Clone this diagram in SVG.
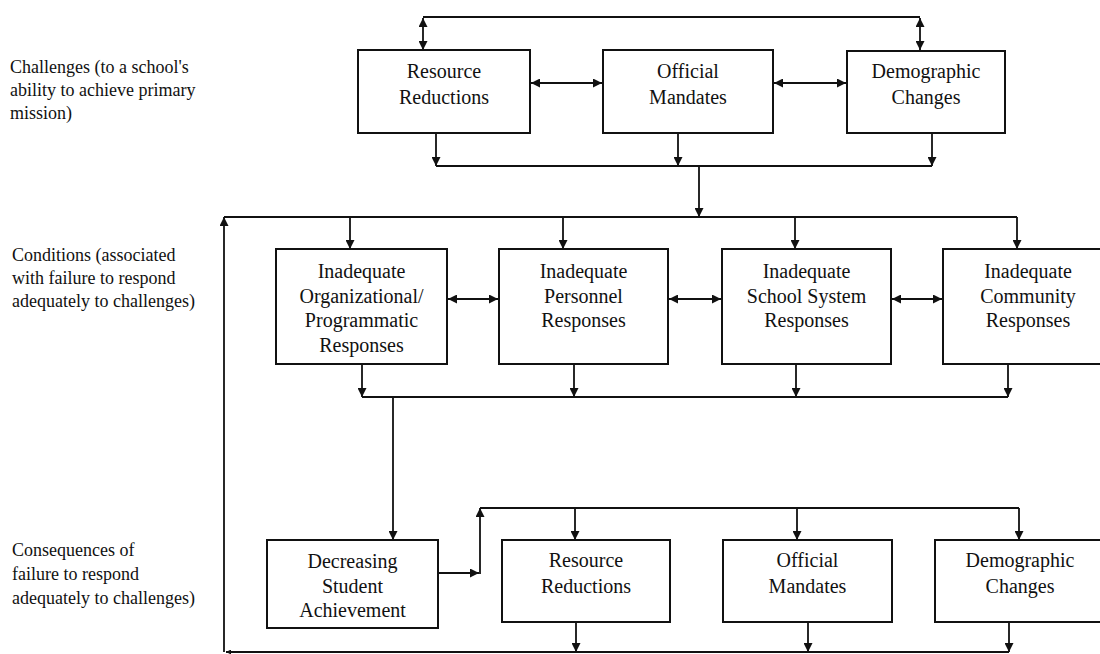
<svg xmlns="http://www.w3.org/2000/svg" width="1100" height="654" viewBox="0 0 1100 654">
<style>
.box{fill:#fff;stroke:#111;stroke-width:2}
.t{font-family:"Liberation Serif","Times New Roman",serif;font-size:20px;fill:#111;text-anchor:middle}
.lbl{font-family:"Liberation Serif","Times New Roman",serif;font-size:18px;fill:#111}
.c{fill:none;stroke:#111;stroke-width:1.8}
.a{marker-end:url(#ah)}
.aa{marker-start:url(#ah);marker-end:url(#ah)}
</style>
<defs>
<marker id="ah" viewBox="0 0 10 10" refX="10" refY="5" markerWidth="10" markerHeight="9" markerUnits="userSpaceOnUse" orient="auto-start-reverse">
<path d="M0,0 L10,5 L0,10 z" fill="#111"/>
</marker>
<marker id="sm" viewBox="0 0 10 10" refX="10" refY="5" markerWidth="6" markerHeight="5" markerUnits="userSpaceOnUse" orient="auto">
<path d="M0,0 L10,5 L0,10 z" fill="#111"/>
</marker>
</defs>

<g id="labels">
<text class="lbl" x="10" y="73">Challenges (to a school's</text>
<text class="lbl" x="10" y="96">ability to achieve primary</text>
<text class="lbl" x="10" y="119">mission)</text>
<text class="lbl" x="12" y="261">Conditions (associated</text>
<text class="lbl" x="12" y="284">with failure to respond</text>
<text class="lbl" x="12" y="307">adequately to challenges)</text>
<text class="lbl" x="12" y="556">Consequences of</text>
<text class="lbl" x="12" y="580">failure to respond</text>
<text class="lbl" x="12" y="604">adequately to challenges)</text>
</g>

<g id="connectors">
<!-- top -->
<path class="c" d="M423,17 L920,17"/>
<path class="c aa" d="M423,18 L423,50"/>
<path class="c aa" d="M920,18 L920,50"/>
<path class="c aa" d="M531,83 L602,83"/>
<path class="c aa" d="M774,83 L846,83"/>
<path class="c a" d="M436,133 L436,166"/>
<path class="c a" d="M678,133 L678,166"/>
<path class="c a" d="M932,133 L932,166"/>
<path class="c" d="M436,166 L932,166"/>
<path class="c a" d="M699,166 L699,217"/>
<!-- middle -->
<path class="c" d="M224,217 L1017,217"/>
<path class="c a" d="M350,217 L350,249"/>
<path class="c a" d="M563,217 L563,249"/>
<path class="c a" d="M795,217 L795,249"/>
<path class="c a" d="M1017,217 L1017,249"/>
<path class="c aa" d="M448,299 L498,299"/>
<path class="c aa" d="M669,299 L721,299"/>
<path class="c aa" d="M892,299 L942,299"/>
<path class="c a" d="M362,364 L362,397"/>
<path class="c a" d="M574,364 L574,397"/>
<path class="c a" d="M796,364 L796,397"/>
<path class="c a" d="M1008,364 L1008,397"/>
<path class="c" d="M362,397 L1008,397"/>
<path class="c a" d="M393,397 L393,540"/>
<!-- bottom -->
<path class="c a" d="M438,573 L479,573"/>
<path class="c a" d="M480,574 L480,508"/>
<path class="c" d="M480,508 L1019,508"/>
<path class="c a" d="M575,508 L575,540"/>
<path class="c a" d="M797,508 L797,540"/>
<path class="c a" d="M1019,508 L1019,540"/>
<path class="c a" d="M576,622 L576,652"/>
<path class="c a" d="M808,622 L808,652"/>
<path class="c a" d="M1009,622 L1009,652"/>
<path class="c" d="M1009,652 L226,652" marker-end="url(#sm)"/>
<path class="c a" d="M224,652 L224,217"/>
</g>

<g id="n-resource-top">
<rect class="box" x="358" y="50" width="172" height="83"/>
<text class="t" x="444" y="78">Resource</text>
<text class="t" x="444" y="104">Reductions</text>
</g>
<g id="n-official-top">
<rect class="box" x="603" y="50" width="170" height="83"/>
<text class="t" x="688" y="78">Official</text>
<text class="t" x="688" y="104">Mandates</text>
</g>
<g id="n-demographic-top">
<rect class="box" x="847" y="51" width="158" height="82"/>
<text class="t" x="926" y="78">Demographic</text>
<text class="t" x="926" y="104">Changes</text>
</g>

<g id="n-org">
<rect class="box" x="276" y="249" width="171" height="115"/>
<text class="t" x="361.5" y="278">Inadequate</text>
<text class="t" x="361.5" y="303">Organizational/</text>
<text class="t" x="361.5" y="327">Programmatic</text>
<text class="t" x="361.5" y="352">Responses</text>
</g>
<g id="n-personnel">
<rect class="box" x="499" y="249" width="169" height="115"/>
<text class="t" x="583.5" y="278">Inadequate</text>
<text class="t" x="583.5" y="303">Personnel</text>
<text class="t" x="583.5" y="327">Responses</text>
</g>
<g id="n-school">
<rect class="box" x="722" y="249" width="169" height="115"/>
<text class="t" x="806.5" y="278">Inadequate</text>
<text class="t" x="806.5" y="303">School System</text>
<text class="t" x="806.5" y="327">Responses</text>
</g>
<g id="n-community">
<rect class="box" x="943" y="249" width="170" height="115"/>
<text class="t" x="1028" y="278">Inadequate</text>
<text class="t" x="1028" y="303">Community</text>
<text class="t" x="1028" y="327">Responses</text>
</g>

<g id="n-decreasing">
<rect class="box" x="267" y="540" width="171" height="88"/>
<text class="t" x="352.5" y="568">Decreasing</text>
<text class="t" x="352.5" y="593">Student</text>
<text class="t" x="352.5" y="617">Achievement</text>
</g>
<g id="n-resource-bottom">
<rect class="box" x="502" y="540" width="168" height="82"/>
<text class="t" x="586" y="567">Resource</text>
<text class="t" x="586" y="593">Reductions</text>
</g>
<g id="n-official-bottom">
<rect class="box" x="723" y="540" width="169" height="82"/>
<text class="t" x="807.5" y="567">Official</text>
<text class="t" x="807.5" y="593">Mandates</text>
</g>
<g id="n-demographic-bottom">
<rect class="box" x="935" y="540" width="170" height="82"/>
<text class="t" x="1020" y="567">Demographic</text>
<text class="t" x="1020" y="593">Changes</text>
</g>
</svg>
